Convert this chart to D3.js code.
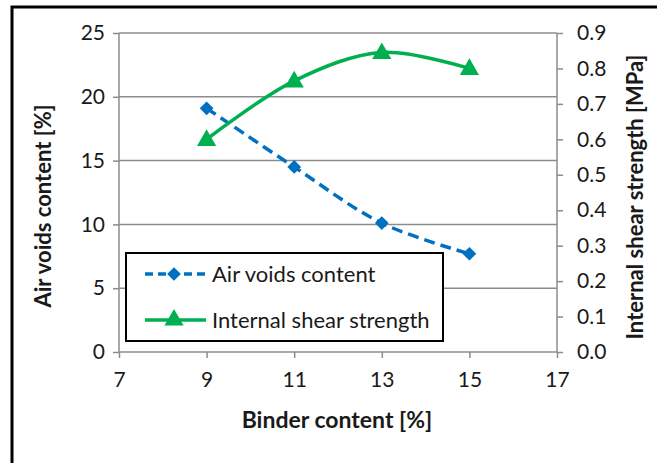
<!DOCTYPE html>
<html>
<head>
<meta charset="utf-8">
<script src="https://cdn.jsdelivr.net/npm/d3@7"></script>
<style>
  body { margin: 0; background: #fff; }
  text { font-family: Lato, "Open Sans", sans-serif; fill: #1a1a1a; }
</style>
</head>
<body>
<svg id="chart" width="657" height="463"></svg>
<script>
// data
var binder = [9, 11, 13, 15];
var airVoids = [19.1, 14.5, 10.1, 7.7];
var shear = [0.60, 0.765, 0.845, 0.80];
var xTicks = [7, 9, 11, 13, 15, 17];
var leftTicks = [0, 5, 10, 15, 20, 25];
var rightTicks = [0, 0.1, 0.2, 0.3, 0.4, 0.5, 0.6, 0.7, 0.8, 0.9];
var seriesNames = ['Air voids content', 'Internal shear strength'];

var svg = d3.select('#chart');
var plot = {l: 119, r: 557, t: 33, b: 352};

var blue = '#0070C0', green = '#00B050';

// outer frame (right/bottom edge cropped off)
svg.append('rect')
    .attr('x', 12).attr('y', 7)
    .attr('width', 700).attr('height', 500)
    .attr('fill', 'none').attr('stroke', '#000').attr('stroke-width', 3);

var x = d3.scaleLinear([7, 17], [plot.l, plot.r]);
var yL = d3.scaleLinear([0, 25], [plot.b, plot.t]);
var yR = d3.scaleLinear([0, 0.9], [plot.b, plot.t]);

var g = svg.append('g');

// gridlines
g.selectAll('line.grid')
    .data(leftTicks.slice(1))
    .enter().append('line')
    .attr('class', 'grid')
    .attr('x1', plot.l).attr('x2', plot.r)
    .attr('y1', function(d) { return yL(d); })
    .attr('y2', function(d) { return yL(d); })
    .attr('stroke', '#8c8c8c').attr('stroke-width', 1.5);

// axes
var axL = g.append('g').attr('transform', 'translate(' + plot.l + ',0)')
    .call(d3.axisLeft(yL).tickValues(leftTicks).tickSize(6).tickPadding(8));
var axR = g.append('g').attr('transform', 'translate(' + plot.r + ',0)')
    .call(d3.axisRight(yR).tickValues(rightTicks).tickSize(6).tickPadding(14).tickFormat(d3.format('.1f')));
var axB = g.append('g').attr('transform', 'translate(0,' + plot.b + ')')
    .call(d3.axisBottom(x).tickValues(xTicks).tickSize(6).tickPadding(14));

[axL, axR, axB].forEach(function(a) {
    a.select('.domain').attr('stroke', '#8c8c8c').attr('stroke-width', 1.5);
    a.selectAll('.tick line').attr('stroke', '#8c8c8c').attr('stroke-width', 1.5);
    a.selectAll('.tick text').attr('font-size', 21).attr('fill', '#1a1a1a')
        .style('font-family', 'Lato, "Open Sans", sans-serif');
});
axL.select('.domain').attr('d', 'M0,' + plot.b + 'V' + plot.t);
axR.select('.domain').attr('d', 'M0,' + plot.b + 'V' + plot.t);
axB.select('.domain').attr('d', 'M' + plot.l + ',0H' + plot.r);

// axis titles
svg.append('text')
    .attr('transform', 'translate(51,206) rotate(-90)')
    .attr('text-anchor', 'middle').attr('font-size', 22).attr('font-weight', 'bold')
    .text('Air voids content [%]');
svg.append('text')
    .attr('transform', 'translate(643,197) rotate(-90)')
    .attr('text-anchor', 'middle').attr('font-size', 22).attr('font-weight', 'bold')
    .text('Internal shear strength [MPa]');
svg.append('text')
    .attr('x', 337).attr('y', 428)
    .attr('text-anchor', 'middle').attr('font-size', 23).attr('font-weight', 'bold')
    .text('Binder content [%]');

var curve = d3.curveCatmullRom.alpha(0.5);

var lineAir = d3.line()
    .x(function(d, i) { return x(binder[i]); })
    .y(function(d) { return yL(d); })
    .curve(curve);
var lineShear = d3.line()
    .x(function(d, i) { return x(binder[i]); })
    .y(function(d) { return yR(d); })
    .curve(curve);

g.append('path').datum(airVoids)
    .attr('d', lineAir)
    .attr('fill', 'none').attr('stroke', blue)
    .attr('stroke-width', 3.5).attr('stroke-dasharray', '11,6');

g.append('path').datum(shear)
    .attr('d', lineShear)
    .attr('fill', 'none').attr('stroke', green)
    .attr('stroke-width', 3.5);

var diamond = d3.symbol().type(d3.symbolDiamond2).size(120);
var triangle = d3.symbol().type(d3.symbolTriangle).size(160);

g.selectAll('path.air')
    .data(airVoids).enter().append('path')
    .attr('class', 'air')
    .attr('d', diamond)
    .attr('transform', function(d, i) { return 'translate(' + x(binder[i]) + ',' + yL(d) + ')'; })
    .attr('fill', blue);

g.selectAll('path.shear')
    .data(shear).enter().append('path')
    .attr('class', 'shear')
    .attr('d', triangle)
    .attr('transform', function(d, i) { return 'translate(' + x(binder[i]) + ',' + (yR(d) + 1) + ')'; })
    .attr('fill', green);

// legend
var leg = svg.append('g');
leg.append('rect')
    .attr('x', 126).attr('y', 253).attr('width', 317).attr('height', 88)
    .attr('fill', '#fff').attr('stroke', '#000').attr('stroke-width', 2);

var rows = [
    {name: seriesNames[0], color: blue, dash: '8,5', sym: diamond, y: 274},
    {name: seriesNames[1], color: green, dash: null, sym: triangle, y: 320}
];
rows.forEach(function(r) {
    leg.append('line')
        .attr('x1', 145).attr('x2', 206).attr('y1', r.y).attr('y2', r.y)
        .attr('stroke', r.color).attr('stroke-width', 3.5)
        .attr('stroke-dasharray', r.dash);
    leg.append('path').attr('d', r.sym)
        .attr('transform', 'translate(174,' + r.y + ')')
        .attr('fill', r.color);
    leg.append('text')
        .attr('x', 212).attr('y', r.y).attr('dy', '0.35em')
        .attr('font-size', 22)
        .text(r.name);
});
</script>
</body>
</html>
